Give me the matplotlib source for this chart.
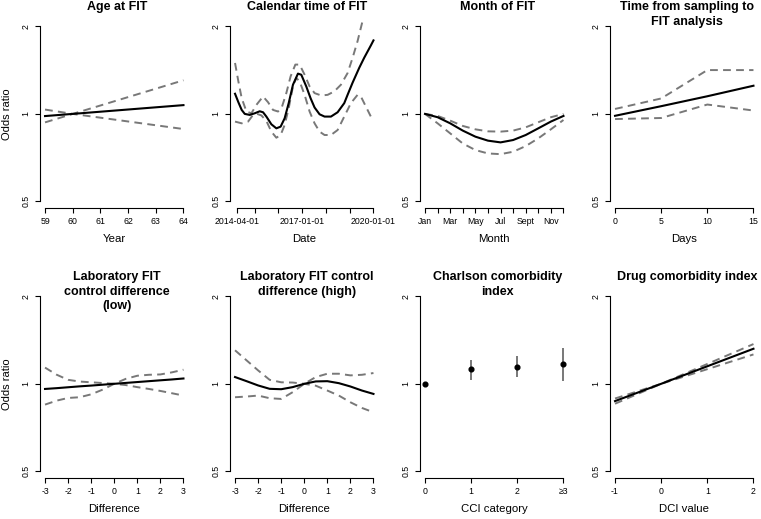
import matplotlib
matplotlib.use("Agg")
import matplotlib.pyplot as plt
from matplotlib.ticker import NullLocator

plt.rcParams["font.family"] = ["Liberation Sans", "DejaVu Sans"]

# ─── data (odds ratios) ─────────────────────────────────────────────────────

AGE_X = [59, 60, 64]
AGE_OR = [0.983, 1.0, 1.072]
AGE_LO = [0.935, 1.0, 0.887]
AGE_HI = [1.035, 1.0, 1.305]

CAL_X = [2014.17, 2014.31, 2014.45, 2014.58, 2014.79, 2015.0, 2015.21, 2015.35,
         2015.49, 2015.70, 2015.91, 2016.09, 2016.26, 2016.43, 2016.61, 2016.82,
         2016.96, 2017.17, 2017.35, 2017.52, 2017.73, 2017.94, 2018.21, 2018.49,
         2018.77, 2018.91, 2019.12, 2019.40, 2019.61, 2019.89, 2020.0]
CAL_OR = [1.173, 1.097, 1.032, 1.0, 0.992, 1.005, 1.021, 1.013,
          0.979, 0.921, 0.892, 0.904, 0.966, 1.089, 1.26, 1.376,
          1.364, 1.243, 1.133, 1.052, 0.997, 0.979, 0.979, 1.013,
          1.089, 1.163, 1.28, 1.44, 1.56, 1.72, 1.79]
CAL_HI_X = [2014.17, 2014.31, 2014.45, 2014.65, 2014.86, 2015.07, 2015.35, 2015.56,
            2015.77, 2015.98, 2016.15, 2016.33, 2016.51, 2016.71, 2016.89, 2017.10,
            2017.31, 2017.52, 2017.80, 2018.07, 2018.35, 2018.63, 2018.91, 2019.12,
            2019.33, 2019.47, 2019.61, 2020.0]
CAL_HI = [1.497, 1.294, 1.133, 1.019, 1.005, 1.074, 1.148, 1.097,
          1.032, 1.019, 1.06, 1.179, 1.346, 1.478, 1.478, 1.364,
          1.243, 1.179, 1.157, 1.163, 1.195, 1.26, 1.382, 1.558,
          1.779, 1.979, 2.2, 2.7]
CAL_LO_X = [2014.17, 2014.45, 2014.72, 2014.93, 2015.10, 2015.28, 2015.49, 2015.70,
            2015.91, 2016.09, 2016.26, 2016.43, 2016.61, 2016.75, 2016.89, 2017.10,
            2017.31, 2017.52, 2017.73, 2017.94, 2018.21, 2018.49, 2018.77, 2019.05,
            2019.33, 2019.47, 2019.68, 2019.89, 2020.0]
CAL_LO = [0.941, 0.928, 0.941, 0.992, 1.0, 0.988, 0.946, 0.869,
          0.828, 0.846, 0.916, 1.046, 1.243, 1.329, 1.294, 1.163,
          1.019, 0.928, 0.869, 0.846, 0.846, 0.88, 0.979, 1.089,
          1.163, 1.148, 1.06, 0.979, 0.96]
CAL_TICKS = [2014.247, 2015, 2016, 2017, 2018, 2019, 2020]
CAL_LABELS = ["2014-04-01", "", "", "2017-01-01", "", "", "2020-01-01"]

MONTH_X = [1, 2, 3, 4, 5, 6, 7, 8, 9, 10, 11, 12]
MONTH_OR = [1.0, 0.974, 0.928, 0.876, 0.835, 0.809, 0.798, 0.813, 0.846, 0.892, 0.941, 0.984]
MONTH_HI = [1.0, 0.984, 0.948, 0.909, 0.885, 0.871, 0.869, 0.876, 0.899, 0.936, 0.974, 1.0]
MONTH_LO = [1.0, 0.928, 0.857, 0.791, 0.751, 0.731, 0.727, 0.741, 0.775, 0.824, 0.885, 0.953]
MONTH_LABELS = ["Jan", "", "Mar", "", "May", "", "Jul", "", "Sept", "", "Nov", ""]

DAYS_X = [0, 5, 10, 15]
DAYS_OR = [0.985, 1.063, 1.15, 1.25]
DAYS_HI = [1.04, 1.13, 1.415, 1.415]
DAYS_LO = [0.96, 0.968, 1.077, 1.027]

DIFF_X = [-3, -2.5, -2, -1.5, -1, -0.5, 0, 0.5, 1, 1.5, 2, 2.5, 3]
LOW_OR = [0.960, 0.966, 0.973, 0.980, 0.986, 0.993, 1.0, 1.007, 1.014, 1.021, 1.028, 1.035, 1.043]
LOW_A = [1.137, 1.075, 1.032, 1.018, 1.012, 1.006, 1.0, 0.99, 0.974, 0.96, 0.945, 0.928, 0.911]
LOW_B = [0.848, 0.875, 0.894, 0.899, 0.92, 0.955, 1.0, 1.04, 1.066, 1.074, 1.077, 1.095, 1.118]

HIGH_OR = [1.055, 1.021, 0.987, 0.961, 0.958, 0.974, 1.0, 1.019, 1.021, 1.005, 0.979, 0.948, 0.923]
HIGH_A = [1.304, 1.204, 1.112, 1.032, 1.012, 1.01, 1.0, 0.985, 0.948, 0.911, 0.864, 0.826, 0.798]
HIGH_B = [0.899, 0.904, 0.911, 0.892, 0.887, 0.936, 1.0, 1.055, 1.083, 1.083, 1.069, 1.074, 1.089]

CCI_X = [0, 1, 2, 3]
CCI_LABELS = ["0", "1", "2", "≥3"]
CCI_OR = [1.0, 1.121, 1.143, 1.173]
CCI_LO = [1.0, 1.033, 1.055, 1.022]
CCI_HI = [1.0, 1.205, 1.244, 1.323]

DCI_X = [-1, 0, 1, 2]
DCI_OR = [0.872, 1.0, 1.149, 1.32]
DCI_LO = [0.854, 1.0, 1.123, 1.262]
DCI_HI = [0.89, 1.0, 1.17, 1.37]

# ─── layout helpers (pixel geometry of the 761x519 target) ──────────────────

W, H = 761, 519
COL_LEFT = [39.5, 229.5, 419.5, 609.5]
ROW_TOP = [19.4, 289.3]
PW, PH = 149.5, 189.0
YLIM = (0.5 * 2 ** -0.08, 2 * 2 ** 0.08)
DASH_COLOR = "#787878"


def fx(px):
    return px / W


def fy(py):
    return 1 - py / H


def make_panel(fig, row, col, title, xlabel, xticks, xlabels, xrange, ylabel=False):
    left, top = COL_LEFT[col], ROW_TOP[row]
    ax = fig.add_axes([fx(left), fy(top + PH), PW / W, PH / H])
    pad = 0.04 * (xrange[1] - xrange[0])
    ax.set_xlim(xrange[0] - pad, xrange[1] + pad)
    ax.set_yscale("log")
    ax.set_ylim(*YLIM)
    ax.set_yticks([0.5, 1, 2])
    ax.set_yticklabels(["0.5", "1", "2"], rotation=90, va="center")
    ax.yaxis.set_minor_locator(NullLocator())
    ax.set_xticks(xticks)
    ax.set_xticklabels(xlabels)
    for s in ("top", "right"):
        ax.spines[s].set_visible(False)
    ax.spines["left"].set_bounds(0.5, 2)
    ax.spines["bottom"].set_bounds(xticks[0], xticks[-1])
    for s in ("left", "bottom"):
        ax.spines[s].set_linewidth(0.8)
    ax.tick_params(axis="both", length=3.6, width=0.8, labelsize=6.3)
    ax.tick_params(axis="x", pad=2.6)
    ax.tick_params(axis="y", pad=3.0)

    cx = left + PW / 2
    fig.text(fx(cx + 3), fy(top - 18.0), title, ha="center", va="top",
             fontsize=9.0, fontweight="bold", linespacing=1.25)
    fig.text(fx(cx), fy(top + PH + 30.5), xlabel, ha="center", va="center", fontsize=8.2)
    if ylabel:
        fig.text(fx(7), fy(top + 94.5), "Odds ratio", ha="center", va="center",
                 rotation=90, fontsize=8.0)
    return ax


def draw_curve(ax, x, est, bands):
    for bx, by in bands:
        ax.plot(bx, by, color=DASH_COLOR, lw=1.4, linestyle=(0, (4, 2.7)))
    ax.plot(x, est, color="black", lw=1.5)


fig = plt.figure(figsize=(W / 100, H / 100), dpi=100)

ax = make_panel(fig, 0, 0, "Age at FIT", "Year", [59, 60, 61, 62, 63, 64],
                ["59", "60", "61", "62", "63", "64"], (59, 64), ylabel=True)
draw_curve(ax, AGE_X, AGE_OR, [(AGE_X, AGE_LO), (AGE_X, AGE_HI)])

ax = make_panel(fig, 0, 1, "Calendar time of FIT", "Date", CAL_TICKS, CAL_LABELS,
                (2014.17, 2020.0))
draw_curve(ax, CAL_X, CAL_OR, [(CAL_LO_X, CAL_LO), (CAL_HI_X, CAL_HI)])

ax = make_panel(fig, 0, 2, "Month of FIT", "Month", MONTH_X, MONTH_LABELS, (1, 12))
draw_curve(ax, MONTH_X, MONTH_OR, [(MONTH_X, MONTH_LO), (MONTH_X, MONTH_HI)])

ax = make_panel(fig, 0, 3, "Time from sampling to\nFIT analysis", "Days", DAYS_X,
                ["0", "5", "10", "15"], (0, 15))
draw_curve(ax, DAYS_X, DAYS_OR, [(DAYS_X, DAYS_LO), (DAYS_X, DAYS_HI)])

diff_ticks = [-3, -2, -1, 0, 1, 2, 3]
diff_labels = [str(v) for v in diff_ticks]

ax = make_panel(fig, 1, 0, "Laboratory FIT\ncontrol difference\n(low)", "Difference",
                diff_ticks, diff_labels, (-3, 3), ylabel=True)
draw_curve(ax, DIFF_X, LOW_OR, [(DIFF_X, LOW_A), (DIFF_X, LOW_B)])

ax = make_panel(fig, 1, 1, "Laboratory FIT control\ndifference (high)", "Difference",
                diff_ticks, diff_labels, (-3, 3))
draw_curve(ax, DIFF_X, HIGH_OR, [(DIFF_X, HIGH_A), (DIFF_X, HIGH_B)])

ax = make_panel(fig, 1, 2, "Charlson comorbidity\nindex", "CCI category", CCI_X,
                CCI_LABELS, (0, 3))
ax.vlines(CCI_X, CCI_LO, CCI_HI, color=DASH_COLOR, lw=1.4)
ax.plot(CCI_X, CCI_OR, "o", color="black", ms=3.4)

ax = make_panel(fig, 1, 3, "Drug comorbidity index", "DCI value", DCI_X,
                ["-1", "0", "1", "2"], (-1, 2))
draw_curve(ax, DCI_X, DCI_OR, [(DCI_X, DCI_LO), (DCI_X, DCI_HI)])

fig.savefig("out.png", dpi=100)
